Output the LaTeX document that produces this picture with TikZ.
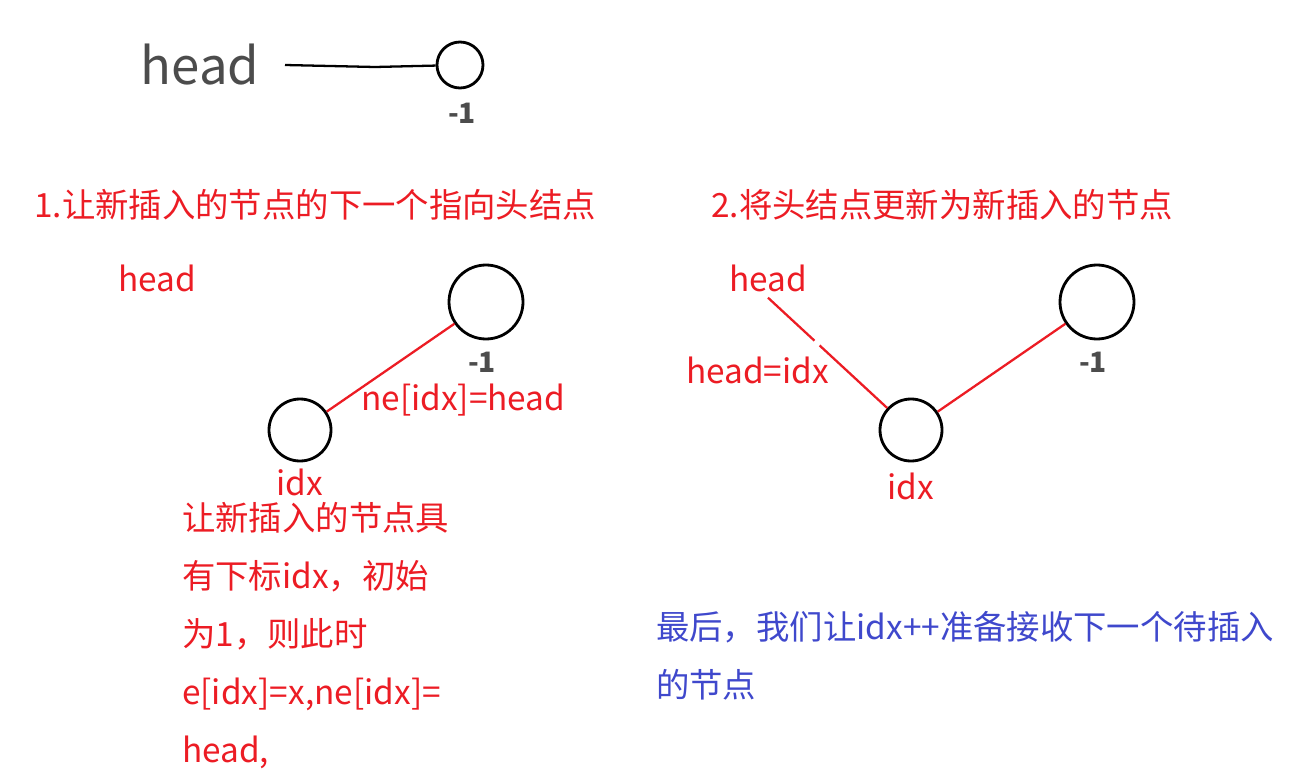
\documentclass[tikz,border=0pt]{standalone}
\usepackage{fontspec}
\setmainfont{Noto Sans CJK SC}
\definecolor{myred}{RGB}{236,28,36}
\definecolor{myblue}{RGB}{63,72,204}
\tikzset{
  knot/.style={circle, draw, line width=1.6pt, inner sep=0pt},
  redtxt/.style={text=myred, font=\fontsize{19}{23}\selectfont},
  numtxt/.style={text=black!70, font=\fontsize{16}{18}\selectfont\bfseries},
  link/.style={myred, line width=1.3pt},
}
\begin{document}
\begin{tikzpicture}[x=0.02cm, y=-0.02cm]
  \useasboundingbox (0,0) rectangle (1304,777);
  % top: empty list
  \node (h0) at (200,65) [text=black!70, font=\fontsize{29}{34}\selectfont] {head};
  \node (n0) at (460,65) [knot, minimum size=46*0.02cm] {};
  \node (m0) at (462,113) [numtxt] {-1};
  \coordinate (k0) at (375,67);
  \draw [line width=1.3pt] (285,65) -- (k0) -- (n0);

  % step 1
  \node (t1) at (28,205) [redtxt, anchor=west] {1.让新插入的节点的下一个指向头结点};
  \node (h1) at (157,278) [redtxt] {head};
  \node (a1) at (486,302) [knot, minimum size=74*0.02cm] {};
  \node (b1) at (482,362) [numtxt] {-1};
  \node (c1) at (300,430) [knot, minimum size=62*0.02cm] {};
  \node (i1) at (300,482) [redtxt] {idx};
  \draw [link] (c1) -- (a1);
  \node (l1) at (355,400) [redtxt, anchor=west] {ne[idx]=head};
  \node (d1) at (176,496) [redtxt, anchor=north west, align=left,
    font=\fontsize{19}{33}\selectfont] {让新插入的节点具\\有下标idx，初始\\为1，则此时\\e[idx]=x,ne[idx]=\\head,};

  % step 2
  \node (t2) at (705,205) [redtxt, anchor=west] {2.将头结点更新为新插入的节点};
  \node (h2) at (768,278) [redtxt] {head};
  \node (a2) at (1097,302) [knot, minimum size=74*0.02cm] {};
  \node (b2) at (1093,362) [numtxt] {-1};
  \node (c2) at (911,430) [knot, minimum size=62*0.02cm] {};
  \node (i2) at (911,486) [redtxt] {idx};
  \node (l2) at (680,370) [redtxt, anchor=west] {head=idx};
  \draw [link, dash pattern=on 36pt off 4pt on 60pt] (h2.south) -- (c2);
  \draw [link] (c2) -- (a2);

  % last
  \node (f) at (650,656) [anchor=west, text=myblue, align=left,
    font=\fontsize{19}{33}\selectfont] {最后，我们让idx++准备接收下一个待插入\\的节点};
\end{tikzpicture}
\end{document}
